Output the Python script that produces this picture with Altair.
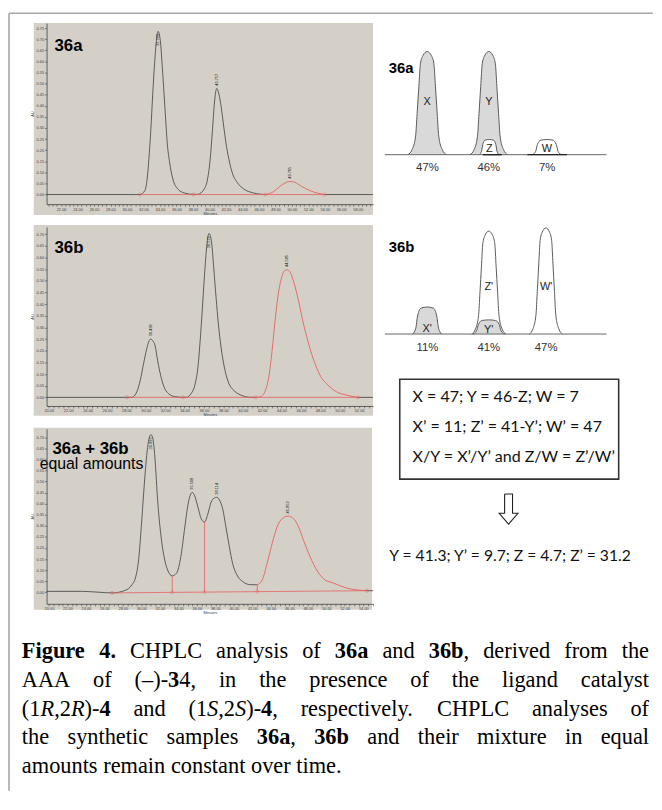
import math
import altair as alt
import pandas as pd

SANS = "Liberation Sans"
SERIF = "Liberation Serif"
BOXF = "Lato"
BG = "#d4d0c8"
TRACE = "#3d3d3d"
RED = "#e4605e"
AXC = "#404040"
BORDER = "#a6a6a6"

# ---------------- 36a chromatogram (minutes, AU) ----------------
A_TRACE_T = [20.24, 31.0, 31.57, 32.17, 32.44, 32.65, 32.89, 33.08, 33.29, 33.53, 33.77, 34.04, 34.28,
             34.49, 34.69, 34.88, 35.17, 35.56, 36.16, 36.97, 37.97, 38.57, 39.37, 39.77, 40.09, 40.37,
             40.57, 40.76, 40.88, 41.08, 41.36, 41.68, 42.0, 42.36, 42.76, 43.36, 44.17, 45.37, 46.77]
A_TRACE_AU = [0, 0, 0, 0.018, 0.07, 0.159, 0.292, 0.426, 0.56, 0.679, 0.735, 0.693, 0.575,
              0.456, 0.337, 0.233, 0.144, 0.07, 0.025, 0.007, 0.001, 0.001, 0.025, 0.07, 0.159, 0.292,
              0.397, 0.463, 0.478, 0.463, 0.411, 0.322, 0.233, 0.159, 0.099, 0.055, 0.025, 0.007, 0.0]
A_RED_T = [46.77, 47.77, 48.57, 49.17, 49.77, 50.37, 51.17, 52.17, 53.17, 53.97]
A_RED_AU = [0, 0.013, 0.037, 0.052, 0.059, 0.055, 0.037, 0.018, 0.006, 0.0]
A_TAIL_T = [53.97, 59.85]
A_TAIL_AU = [0.0, 0.0]
A_BASE_T = [31.57, 53.97]
A_BASE_AU = [0.0, 0.0]
A_MARK_T = [31.57, 38.05, 46.77, 53.97]
A_MARK_AU = [0.0, 0.0, 0.0, 0.0]
A_PEAK_T = [33.77, 40.88, 49.77]
A_PEAK_AU = [0.735, 0.478, 0.059]
A_PEAK_LAB = ["33.793", "40.757", "49.765"]
A_PEAK_POS = ["below", "above", "above"]

# ---------------- 36b chromatogram ----------------
B_TRACE_T = [19.77, 28.06, 28.57, 29.08, 29.43, 29.77, 30.1, 30.35, 30.51, 30.71, 30.96, 31.22, 31.53,
             31.88, 32.32, 33.0, 33.85, 34.19, 34.69, 35.10, 35.38, 35.61, 35.82, 36.06, 36.3, 36.53,
             36.78, 37.01, 37.25, 37.49, 37.76, 38.1, 38.51, 39.05, 39.8, 40.82, 41.33]
B_TRACE_AU = [0, 0, 0, 0.024, 0.073, 0.144, 0.208, 0.243, 0.25, 0.243, 0.222, 0.158, 0.095,
              0.045, 0.017, 0.003, 0, 0, 0.017, 0.059, 0.13, 0.243, 0.37, 0.526, 0.653, 0.703,
              0.667, 0.555, 0.428, 0.314, 0.216, 0.13, 0.066, 0.031, 0.01, 0.0, 0.0]
B_RED_T = [41.33, 41.84, 42.35, 42.69, 43.03, 43.37, 43.71, 44.05, 44.33, 44.56, 44.84, 45.24,
           45.76, 46.27, 46.6, 47.0, 47.5, 48.1, 48.64, 49.66, 50.68, 51.88]
B_RED_AU = [0, 0.003, 0.031, 0.088, 0.201, 0.342, 0.455, 0.519, 0.544, 0.547, 0.54, 0.498,
            0.413, 0.314, 0.26, 0.2, 0.14, 0.085, 0.059, 0.024, 0.01, 0.0]
B_TAIL_T = [51.88, 53.44]
B_TAIL_AU = [0.0, 0.0]
B_BASE_T = [28.06, 51.88]
B_BASE_AU = [0.0, 0.0]
B_MARK_T = [28.06, 33.85, 41.33, 51.88]
B_MARK_AU = [0.0, 0.0, 0.0, 0.0]
B_PEAK_T = [30.51, 36.53, 44.56]
B_PEAK_AU = [0.25, 0.703, 0.547]
B_PEAK_LAB = ["30.496", "36.572", "44.585"]
B_PEAK_POS = ["above", "below", "above"]

# ---------------- 36a + 36b chromatogram ----------------
C_TRACE_T = [19.75, 20.0, 23.64, 25.42, 26.84, 28.28, 28.98, 29.35, 29.7, 29.99, 30.24, 30.52, 30.77,
             31.02, 31.23, 31.49, 31.76, 32.09, 32.45, 32.83, 33.34, 33.8, 34.27, 34.7, 35.05, 35.34,
             35.51, 35.76, 36.12, 36.47, 36.83, 37.19, 37.54, 37.9, 38.15, 38.44, 38.79, 39.14, 39.51,
             39.86, 40.32, 40.93, 41.82, 42.53]
C_TRACE_AU = [0.004, 0.004, 0.004, 0.0, -0.003, 0.009, 0.034, 0.064, 0.146, 0.295, 0.444, 0.593, 0.682,
              0.712, 0.697, 0.593, 0.414, 0.265, 0.161, 0.101, 0.074, 0.086, 0.161, 0.295, 0.399, 0.444,
              0.451, 0.436, 0.384, 0.332, 0.317, 0.354, 0.407, 0.426, 0.429, 0.417, 0.377, 0.295, 0.206,
              0.131, 0.079, 0.049, 0.034, 0.034]
C_RED_T = [42.53, 43.07, 43.6, 44.14, 44.67, 45.21, 45.85, 46.46, 47.0, 47.53, 48.24, 48.95, 49.84,
           50.74, 52.17, 53.58, 54.37]
C_RED_AU = [0.034, 0.056, 0.131, 0.22, 0.295, 0.332, 0.344, 0.332, 0.295, 0.235, 0.161, 0.101, 0.056,
            0.042, 0.019, 0.009, 0.007]
C_TAIL_T = [54.37, 55.05]
C_TAIL_AU = [0.007, 0.007]
C_BASE_T = [26.84, 54.37]
C_BASE_AU = [-0.003, 0.007]
C_DROP_T = [33.34, 36.83, 42.53]
C_DROP_AU0 = [0.0, 0.001, 0.003]
C_DROP_AU1 = [0.074, 0.317, 0.034]
C_MARK_T = [26.84, 33.34, 36.83, 42.53, 54.37]
C_MARK_AU = [-0.003, 0.0, 0.001, 0.003, 0.007]
C_PEAK_T = [31.02, 35.51, 38.15, 45.85]
C_PEAK_AU = [0.712, 0.451, 0.429, 0.344]
C_PEAK_LAB = ["30.993", "35.508", "38.114", "45.852"]
C_PEAK_POS = ["below", "above", "above", "above"]


def df_line(t, au):
    return pd.DataFrame({"t": t, "au": au})


def chrom(p):
    xd, yd = p["xdom"], p["ydom"]
    xt = [k / 2 for k in range(math.ceil(xd[0] * 2), math.floor(xd[1] * 2) + 1)]
    yt = [round(k * 0.05, 2) for k in range(0, 16) if k * 0.05 <= yd[1] + 1e-9]
    axx = alt.Axis(values=xt, labelExpr="abs(datum.value % 2) < 0.01 ? format(datum.value, '.2f') : ''",
                   title="Minutes", titleFontSize=4, titleFont=SANS, titleColor=AXC, titlePadding=0,
                   titleFontWeight="normal", labelFontSize=4, labelFont=SANS, labelColor=AXC,
                   labelPadding=1, labelOverlap=False, labelFlush=False, tickSize=2, tickWidth=0.6,
                   tickColor=AXC, domainColor=AXC, domainWidth=0.8, grid=False, zindex=1)
    axy = alt.Axis(values=yt, format=".2f", title="AU", titleFontSize=4, titleFont=SANS,
                   titleColor=AXC, titlePadding=1, titleFontWeight="normal", labelFontSize=4,
                   labelFont=SANS, labelColor=AXC, labelPadding=1, labelOverlap=False,
                   labelFlush=False, tickSize=2, tickWidth=0.6, tickColor=AXC, domainColor=AXC,
                   domainWidth=0.8, grid=False, zindex=1)
    x = alt.X("t:Q", scale=alt.Scale(domain=xd, nice=False, zero=False), axis=axx)
    y = alt.Y("au:Q", scale=alt.Scale(domain=yd, nice=False, zero=False), axis=axy)
    one = pd.DataFrame({"k": [0]})
    bx0, bx1, by0, by1 = p["bg"]
    layers = [alt.Chart(one).mark_rect(color=BG).encode(
        x=alt.value(bx0), x2=alt.value(bx1), y=alt.value(by0), y2=alt.value(by1))]
    if p.get("border"):
        layers.append(alt.Chart(one).mark_rule(color=BORDER, strokeWidth=1.6).encode(
            x=alt.value(-38), x2=alt.value(613), y=alt.value(-10)))
        layers.append(alt.Chart(one).mark_rule(color=BORDER, strokeWidth=1.6).encode(
            x=alt.value(-38), y=alt.value(-10), y2=alt.value(776)))
    for t, au in p["black"]:
        layers.append(alt.Chart(df_line(t, au)).mark_line(
            color=TRACE, strokeWidth=0.8, interpolate="monotone").encode(x=x, y=y))
    layers.append(alt.Chart(df_line(*p["base"])).mark_line(
        color=RED, strokeWidth=0.8).encode(x=x, y=y))
    layers.append(alt.Chart(df_line(*p["red"])).mark_line(
        color=RED, strokeWidth=0.9, interpolate="monotone").encode(x=x, y=y))
    if "drops" in p:
        dt, d0, d1 = p["drops"]
        ddf = pd.DataFrame({"t": dt, "au": d0, "au1": d1})
        layers.append(alt.Chart(ddf).mark_rule(color=RED, strokeWidth=0.8).encode(
            x=x, y=y, y2=alt.Y2("au1:Q")))
    layers.append(alt.Chart(df_line(*p["marks"])).mark_point(
        shape="circle", filled=False, color=RED, size=10, strokeWidth=0.6).encode(x=x, y=y))
    pt, pa, pl, pp = p["peaks"]
    for pos in ["above", "below"]:
        rows = [(t_, a_ + (0.012 if pos == "above" else -0.012), l_)
                for t_, a_, l_, q_ in zip(pt, pa, pl, pp) if q_ == pos]
        if rows:
            ldf = pd.DataFrame(rows, columns=["t", "au", "lab"])
            layers.append(alt.Chart(ldf).mark_text(
                angle=270, align="left" if pos == "above" else "right", baseline="middle",
                fontSize=4, font=SANS, color="#222").encode(x=x, y=y, text="lab:N"))
    for txt, tx, ty, fs, fw in p["titles"]:
        layers.append(alt.Chart(one).mark_text(
            text=txt, align="left", baseline="alphabetic", fontSize=fs, fontWeight=fw,
            font=SANS, color="#000").encode(x=alt.value(tx), y=alt.value(ty)))
    return alt.layer(*layers)


# ---------------- schematic peaks (right column, page pixels) ----------------
TALL_U = [-1.0, -0.78, -0.60, -0.52, -0.43, -0.35, -0.22, 0.0, 0.22, 0.35, 0.43, 0.52, 0.60, 0.78, 1.0]
TALL_V = [0.0, 0.05, 0.18, 0.40, 0.66, 0.88, 0.96, 1.0, 0.96, 0.88, 0.66, 0.40, 0.18, 0.05, 0.0]
SHORT_U = [-1.0, -0.78, -0.66, -0.42, 0.0, 0.42, 0.66, 0.78, 1.0]
SHORT_V = [0.0, 0.22, 0.67, 0.96, 1.0, 0.96, 0.67, 0.22, 0.0]

SCH_NAME = ["X", "Y", "Z", "W", "X'", "Z'", "Y'", "W'"]
SCH_CENTER = [431.7, 494.0, 494.5, 552.7, 431.7, 494.0, 494.0, 551.7]
SCH_HALFW = [19.5, 19.0, 10.0, 14.5, 14.7, 17.2, 16.0, 16.7]
SCH_TOP = [47.7, 47.7, 136.7, 136.7, 306.0, 229.3, 319.0, 226.0]
SCH_BASE = [152.0, 152.0, 152.0, 152.0, 333.3, 333.3, 333.3, 333.3]
SCH_KIND = ["tall", "tall", "short", "short", "short", "tall", "short", "tall"]
SCH_FILL = ["#d9d9d9", "#d9d9d9", "#ffffff", "#ffffff", "#d9d9d9", "#ffffff", "#d9d9d9", "#ffffff"]

BASELINE_X0 = [389, 389]
BASELINE_X1 = [613, 613]
BASELINE_Y = [152.0, 333.3]
DARK_X0 = [488, 533]
DARK_X1 = [507, 573]
DARK_Y = [152.0, 152.0]

LETTER_TXT = ["X", "Y", "Z", "W", "X'", "Y'", "Z'", "W'"]
LETTER_X = [431.7, 494.0, 494.5, 552.7, 431.7, 494.0, 494.0, 552.0]
LETTER_Y = [101.7, 101.7, 149.3, 149.3, 331.0, 332.5, 289.0, 289.0]
PCT_TXT = ["47%", "46%", "7%", "11%", "41%", "47%"]
PCT_X = [432.0, 494.0, 553.0, 432.0, 494.0, 552.0]
PCT_Y = [168.3, 168.3, 168.3, 350.0, 350.0, 350.0]
SUB_TXT = ["36a", "36b"]
SUB_X = [393.0, 393.0]
SUB_Y = [69.5, 250.0]

BOX = {"x0": [404.0], "x1": [625.3], "y0": [379.0], "y1": [480.0]}
EQ_TXT = ["X = 47; Y =  46-Z; W = 7", "X\u2019 = 11; Z\u2019 = 41-Y\u2019; W\u2019 = 47",
          "X/Y = X\u2019/Y\u2019 and  Z/W = Z\u2019/W\u2019"]
EQ_X = [417.0, 417.0, 417.0]
EQ_Y = [402.5, 432.5, 462.5]
RES_TXT = ["Y = 41.3; Y\u2019 = 9.7; Z = 4.7; Z\u2019 = 31.2"]
RES_X = [393.5]
RES_Y = [563.0]
ARROW_X = [510, 518, 518, 523.5, 514, 504.5, 510, 510]
ARROW_Y = [495, 495, 514.5, 514.5, 525.5, 514.5, 514.5, 495]

# page-pixel scales anchored on panel 36a's plot box (page x 47..377, y 19..202)
RX = alt.X("x:Q", scale=alt.Scale(domain=[47, 377], nice=False, zero=False), axis=None)
RY = alt.Y("y:Q", scale=alt.Scale(domain=[19, 202], nice=False, zero=False, reverse=True), axis=None)

rlayers = []
for i in range(len(SCH_NAME)):
    U, V = (TALL_U, TALL_V) if SCH_KIND[i] == "tall" else (SHORT_U, SHORT_V)
    h = SCH_BASE[i] - SCH_TOP[i]
    pdf = pd.DataFrame({"x": [SCH_CENTER[i] + u * SCH_HALFW[i] for u in U],
                        "y": [SCH_BASE[i] - v * h for v in V],
                        "yb": [SCH_BASE[i]] * len(U)})
    rlayers.append(alt.Chart(pdf).mark_area(color=SCH_FILL[i], opacity=1, interpolate="monotone")
                   .encode(x=RX, y=RY, y2=alt.Y2("yb:Q")))
    rlayers.append(alt.Chart(pdf).mark_line(color="#5a5a5a", strokeWidth=1, interpolate="monotone")
                   .encode(x=RX, y=RY))
bdf = pd.DataFrame({"x": BASELINE_X0, "x1": BASELINE_X1, "y": BASELINE_Y})
rlayers.append(alt.Chart(bdf).mark_rule(color="#666666", strokeWidth=1).encode(x=RX, x2="x1:Q", y=RY))
ddf = pd.DataFrame({"x": DARK_X0, "x1": DARK_X1, "y": DARK_Y})
rlayers.append(alt.Chart(ddf).mark_rule(color="#222222", strokeWidth=1.4).encode(x=RX, x2="x1:Q", y=RY))
ldf = pd.DataFrame({"x": LETTER_X, "y": LETTER_Y, "txt": LETTER_TXT})
rlayers.append(alt.Chart(ldf).mark_text(font=SANS, fontSize=11, color="#222", align="center",
                                        baseline="alphabetic").encode(x=RX, y=RY, text="txt:N"))
pcdf = pd.DataFrame({"x": PCT_X, "y": PCT_Y, "txt": PCT_TXT})
rlayers.append(alt.Chart(pcdf).mark_text(font=SANS, fontSize=11.5, color="#333", align="center",
                                         baseline="alphabetic").encode(x=RX, y=RY, text="txt:N"))
sdf = pd.DataFrame({"x": SUB_X, "y": SUB_Y, "txt": SUB_TXT})
rlayers.append(alt.Chart(sdf).mark_text(font=SANS, fontSize=15, fontWeight="bold", color="#000",
                                        align="left", baseline="alphabetic").encode(x=RX, y=RY, text="txt:N"))
boxdf = pd.DataFrame({"x": BOX["x0"], "x1": BOX["x1"], "y": BOX["y0"], "y1": BOX["y1"]})
rlayers.append(alt.Chart(boxdf).mark_rect(fill="white", stroke="#333333", strokeWidth=1.6)
               .encode(x=RX, x2="x1:Q", y=RY, y2="y1:Q"))
edf = pd.DataFrame({"x": EQ_X, "y": EQ_Y, "txt": EQ_TXT})
rlayers.append(alt.Chart(edf).mark_text(font=BOXF, fontSize=16.2, color="#111", align="left",
                                        baseline="alphabetic").encode(x=RX, y=RY, text="txt:N"))
resdf = pd.DataFrame({"x": RES_X, "y": RES_Y, "txt": RES_TXT})
rlayers.append(alt.Chart(resdf).mark_text(font=BOXF, fontSize=15.8, color="#111", align="left",
                                          baseline="alphabetic").encode(x=RX, y=RY, text="txt:N"))
adf = pd.DataFrame({"x": ARROW_X, "y": ARROW_Y, "o": list(range(len(ARROW_X)))})
rlayers.append(alt.Chart(adf).mark_line(color="#222222", strokeWidth=1.1)
               .encode(x=RX, y=RY, order="o:Q"))
right_layer = alt.layer(*rlayers)

# ---------------- caption ----------------
CAP_FS = 22.6
CAP_LEFT = 22.0
CAP_RIGHT = 656.0
CAP_BASE = [661.0, 690.0, 719.0, 748.0, 777.0]
CAP_RUNS = [
    [("Figure 4.", "B"), (" CHPLC analysis of ", "R"), ("36a", "B"), (" and ", "R"), ("36b", "B"),
     (", derived from the", "R")],
    [("AAA of (\u2013)-", "R"), ("3", "B"), ("4, in the presence of the ligand catalyst", "R")],
    [("(1", "R"), ("R", "I"), (",2", "R"), ("R", "I"), (")-", "R"), ("4", "B"), (" and (1", "R"),
     ("S", "I"), (",2", "R"), ("S", "I"), (")-", "R"), ("4", "B"),
     (", respectively. CHPLC analyses of", "R")],
    [("the synthetic samples ", "R"), ("36a", "B"), (", ", "R"), ("36b", "B"),
     (" and their mixture in equal", "R")],
    [("amounts remain constant over time.", "R")],
]
CAP_JUSTIFY = [True, True, True, True, False]

W_R = {" ": 250, "(": 333, ")": 333, ",": 250, "-": 333, ".": 250, "\u2013": 500,
       "A": 722, "C": 667, "H": 722, "L": 611, "P": 556, "R": 667, "S": 556,
       "a": 444, "b": 500, "c": 444, "d": 500, "e": 444, "f": 333, "g": 500, "h": 500, "i": 278,
       "l": 278, "m": 778, "n": 500, "o": 500, "p": 500, "q": 500, "r": 333, "s": 389, "t": 278,
       "u": 500, "v": 500, "w": 722, "x": 500, "y": 500, "z": 444}
W_B = {"F": 611, "i": 278, "g": 500, "u": 556, "r": 444, "e": 444, " ": 250, ".": 250,
       "a": 500, "b": 556}
W_I = {"R": 611, "S": 500}


def cw(ch, st):
    tab = {"R": W_R, "B": W_B, "I": W_I}[st]
    return tab.get(ch, W_R.get(ch, 500)) / 1000.0 * CAP_FS


cap_rows = []
for li, runs in enumerate(CAP_RUNS):
    natural = sum(cw(ch, st) for txt, st in runs for ch in txt)
    nsp = sum(txt.count(" ") for txt, st in runs)
    extra = (CAP_RIGHT - CAP_LEFT - natural) / nsp if (CAP_JUSTIFY[li] and nsp) else 0.0
    xpos = CAP_LEFT
    for txt, st in runs:
        piece, px = "", xpos
        for ch in txt:
            if ch == " ":
                if piece:
                    cap_rows.append((px, CAP_BASE[li], piece, st))
                piece = ""
                xpos += cw(ch, st) + extra
                px = xpos
            else:
                if not piece:
                    px = xpos
                piece += ch
                xpos += cw(ch, st)
        if piece:
            cap_rows.append((px, CAP_BASE[li], piece, st))
cap_df = pd.DataFrame(cap_rows, columns=["x", "y", "txt", "st"])

# page-pixel scales anchored on panel 36a+36b's plot box (page x 47..377, y 429..606)
CX = alt.X("x:Q", scale=alt.Scale(domain=[47, 377], nice=False, zero=False), axis=None)
CY = alt.Y("y:Q", scale=alt.Scale(domain=[429, 606], nice=False, zero=False, reverse=True), axis=None)
clayers = []
for st, fw, fsty in [("R", "normal", "normal"), ("B", "bold", "normal"), ("I", "normal", "italic")]:
    clayers.append(alt.Chart(cap_df).transform_filter(alt.datum.st == st).mark_text(
        font=SERIF, fontSize=CAP_FS, fontWeight=fw, fontStyle=fsty, color="#000", align="left",
        baseline="alphabetic").encode(x=CX, y=CY, text="txt:N"))
caption_layer = alt.layer(*clayers)

chromA = chrom({
    "xdom": [20.24, 59.85], "ydom": [-0.0432, 0.7723], "bg": [-13, 330, 0, 194],
    "border": True,
    "black": [(A_TRACE_T, A_TRACE_AU), (A_TAIL_T, A_TAIL_AU)],
    "red": (A_RED_T, A_RED_AU), "base": (A_BASE_T, A_BASE_AU), "marks": (A_MARK_T, A_MARK_AU),
    "peaks": (A_PEAK_T, A_PEAK_AU, A_PEAK_LAB, A_PEAK_POS),
    "titles": [("36a", 8, 27.7, 17, "bold")],
})
chromB = chrom({
    "xdom": [19.77, 53.44], "ydom": [-0.0369, 0.731], "bg": [-13, 330, -2, 191],
    "black": [(B_TRACE_T, B_TRACE_AU), (B_TAIL_T, B_TAIL_AU)],
    "red": (B_RED_T, B_RED_AU), "base": (B_BASE_T, B_BASE_AU), "marks": (B_MARK_T, B_MARK_AU),
    "peaks": (B_PEAK_T, B_PEAK_AU, B_PEAK_LAB, B_PEAK_POS),
    "titles": [("36b", 8, 26.7, 17, "bold")],
})
chromC = chrom({
    "xdom": [19.75, 55.05], "ydom": [-0.0523, 0.739], "bg": [-13, 329, -1, 183],
    "black": [(C_TRACE_T, C_TRACE_AU), (C_TAIL_T, C_TAIL_AU)],
    "red": (C_RED_T, C_RED_AU), "base": (C_BASE_T, C_BASE_AU), "marks": (C_MARK_T, C_MARK_AU),
    "drops": (C_DROP_T, C_DROP_AU0, C_DROP_AU1),
    "peaks": (C_PEAK_T, C_PEAK_AU, C_PEAK_LAB, C_PEAK_POS),
    "titles": [("36a + 36b", 6, 25.3, 17, "bold"), ("equal amounts", -7, 41, 16, "normal")],
})

panelA = alt.layer(chromA, right_layer).resolve_scale(x="independent", y="independent") \
    .properties(width=330, height=183)
panelB = chromB.properties(width=330, height=181)
panelC = alt.layer(chromC, caption_layer).resolve_scale(x="independent", y="independent") \
    .properties(width=330, height=177)

chart = alt.vconcat(panelA, panelB, panelC, spacing=23, bounds="flush").properties(
    padding={"left": 0, "top": 0, "right": 0, "bottom": 0}, background="white"
).configure_view(stroke=None)

chart.save("out.html", embed_options={"renderer": "svg", "actions": False})
